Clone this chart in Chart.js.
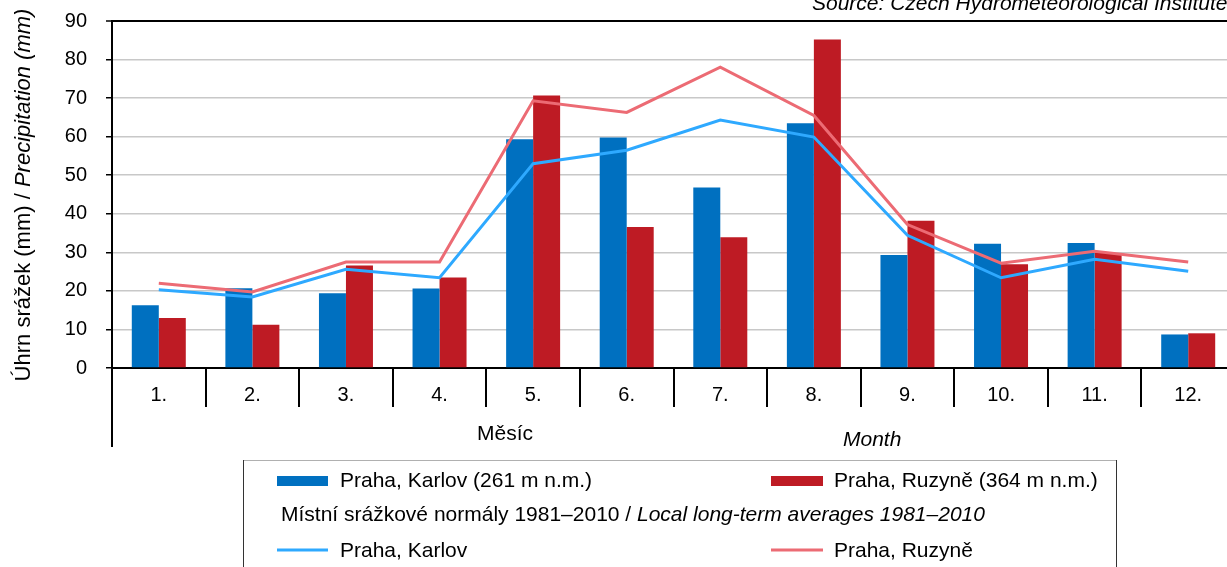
<!DOCTYPE html>
<html>
<head>
<meta charset="utf-8">
<script src="https://cdn.jsdelivr.net/npm/chart.js@4.4.1/dist/chart.umd.min.js"></script>
<style>
html, body { margin: 0; padding: 0; background: #fff; overflow: hidden; }
#wrap { position: relative; width: 1236px; height: 567px; }
</style>
</head>
<body>
<div id="wrap"><canvas id="srazkyChart" width="1236" height="567"></canvas></div>
<script>
// mesicni srazky 2013 vs. normaly 1981-2010
const mesice = ['1.', '2.', '3.', '4.', '5.', '6.', '7.', '8.', '9.', '10.', '11.', '12.'];
const karlovSrazky = [16.3, 20.7, 19.4, 20.6, 59.3, 59.8, 46.8, 63.5, 29.3, 32.2, 32.4, 8.7];
const ruzyneSrazky = [13.0, 11.2, 26.6, 23.5, 70.7, 36.6, 33.9, 85.2, 38.2, 26.9, 29.8, 9.0];
const karlovNormal = [20.3, 18.4, 25.6, 23.4, 53.0, 56.5, 64.3, 59.9, 34.4, 23.4, 28.2, 25.1];
const ruzyneNormal = [22.0, 19.7, 27.5, 27.5, 69.3, 66.3, 78.0, 65.5, 37.2, 27.2, 30.3, 27.5];
const yTicks = [0, 10, 20, 30, 40, 50, 60, 70, 80, 90];

const MODRA = '#0070C0';
const CERVENA = '#BE1B24';
const SVETLE_MODRA = '#2EA9FF';
const RUZOVA = '#EC6B74';
const FONT = '"Liberation Sans", Arial, sans-serif';

// texty mimo osy: popis osy y, mesic, zdroj, legenda
const popisky = {
    id: 'popisky',
    afterDraw(chart) {
        const ctx = chart.ctx;
        const area = chart.chartArea;
        ctx.save();
        ctx.fillStyle = '#000';
        ctx.textBaseline = 'alphabetic';

        // prodlouzena cara vlevo pod osou x
        ctx.strokeStyle = '#000';
        ctx.lineWidth = 2;
        ctx.beginPath();
        ctx.moveTo(area.left, area.bottom);
        ctx.lineTo(area.left, 447);
        ctx.stroke();

        // popis osy y (otoceny, cast kurzivou)
        ctx.save();
        ctx.translate(30, 195);
        ctx.rotate(-Math.PI / 2);
        const t1 = 'Úhrn srážek (mm) / ';
        const t2 = 'Precipitation (mm)';
        ctx.font = '22px ' + FONT;
        const w1 = ctx.measureText(t1).width;
        ctx.font = 'italic 22px ' + FONT;
        const w2 = ctx.measureText(t2).width;
        let x = -(w1 + w2) / 2;
        ctx.font = '22px ' + FONT;
        ctx.textAlign = 'left';
        ctx.fillText(t1, x, 0);
        ctx.font = 'italic 22px ' + FONT;
        ctx.fillText(t2, x + w1, 0);
        ctx.restore();

        ctx.textAlign = 'left';
        ctx.font = '21px ' + FONT;
        ctx.fillText('Měsíc', 477, 440);
        ctx.font = 'italic 21px ' + FONT;
        ctx.fillText('Month', 843, 446);

        ctx.font = 'italic 21px ' + FONT;
        ctx.fillText('Source: Czech Hydrometeorological Institute', 812, 10);

        // legenda
        ctx.lineWidth = 1;
        ctx.strokeStyle = '#b0b0b0';
        ctx.beginPath();
        ctx.moveTo(243, 460.5);
        ctx.lineTo(1117, 460.5);
        ctx.stroke();
        ctx.strokeStyle = '#333';
        ctx.beginPath();
        ctx.moveTo(243.5, 460);
        ctx.lineTo(243.5, 567);
        ctx.moveTo(1116.5, 460);
        ctx.lineTo(1116.5, 567);
        ctx.stroke();

        const ds = chart.data.datasets;
        ctx.fillStyle = ds[0].backgroundColor;
        ctx.fillRect(277, 476, 51, 10);
        ctx.fillStyle = ds[1].backgroundColor;
        ctx.fillRect(771, 476, 52, 10);

        ctx.lineWidth = 3;
        ctx.strokeStyle = ds[2].borderColor;
        ctx.beginPath();
        ctx.moveTo(277, 550);
        ctx.lineTo(328, 550);
        ctx.stroke();
        ctx.strokeStyle = ds[3].borderColor;
        ctx.beginPath();
        ctx.moveTo(771, 550);
        ctx.lineTo(823, 550);
        ctx.stroke();

        ctx.fillStyle = '#000';
        ctx.font = '21px ' + FONT;
        ctx.fillText(ds[0].label, 340, 487);
        ctx.fillText(ds[1].label, 834, 487);
        ctx.fillText(ds[2].label, 340, 557);
        ctx.fillText(ds[3].label, 834, 557);
        const n1 = 'Místní srážkové normály 1981–2010 / ';
        ctx.fillText(n1, 281, 521);
        const wn = ctx.measureText(n1).width;
        ctx.font = 'italic 21px ' + FONT;
        ctx.fillText('Local long-term averages 1981–2010', 281 + wn, 521);

        ctx.restore();
    }
};

const ctxSrazky = document.getElementById('srazkyChart').getContext('2d');
new Chart(ctxSrazky, {
    type: 'bar',
    data: {
        labels: mesice,
        datasets: [{
            label: 'Praha, Karlov (261 m n.m.)',
            data: karlovSrazky,
            backgroundColor: MODRA,
            categoryPercentage: 0.577,
            barPercentage: 1,
            order: 1
        }, {
            label: 'Praha, Ruzyně (364 m n.m.)',
            data: ruzyneSrazky,
            backgroundColor: CERVENA,
            categoryPercentage: 0.577,
            barPercentage: 1,
            order: 1
        }, {
            type: 'line',
            label: 'Praha, Karlov',
            data: karlovNormal,
            borderColor: SVETLE_MODRA,
            borderWidth: 3,
            pointRadius: 0,
            tension: 0,
            order: 0
        }, {
            type: 'line',
            label: 'Praha, Ruzyně',
            data: ruzyneNormal,
            borderColor: RUZOVA,
            borderWidth: 3,
            pointRadius: 0,
            tension: 0,
            order: 0
        }]
    },
    options: {
        responsive: false,
        animation: false,
        layout: { padding: { top: 21, left: 0, right: 1, bottom: 0 } },
        scales: {
            x: {
                offset: true,
                grid: {
                    offset: true,
                    drawOnChartArea: false,
                    color: '#000',
                    lineWidth: 2,
                    tickLength: 39
                },
                border: { color: '#000', width: 2 },
                ticks: {
                    color: '#000',
                    padding: -24,
                    font: { family: FONT, size: 20 }
                },
                afterFit: scale => {
                    scale.height = 199;
                    scale.paddingLeft = 0;
                    scale.paddingRight = 0;
                }
            },
            y: {
                min: 0,
                max: 90,
                afterBuildTicks: scale => { scale.ticks = yTicks.map(v => ({ value: v })); },
                grid: {
                    color: c => (c.tick && c.tick.value === 90 ? '#000' : '#c8c8c8'),
                    lineWidth: c => (c.tick && c.tick.value === 90 ? 2 : 1.5),
                    tickColor: '#000',
                    tickWidth: 1.5,
                    tickLength: 6
                },
                border: { color: '#000', width: 2 },
                ticks: {
                    color: '#000',
                    padding: 19,
                    font: { family: FONT, size: 20 }
                },
                afterFit: scale => {
                    scale.width = 112;
                    scale.paddingTop = 0;
                    scale.paddingBottom = 0;
                }
            }
        },
        plugins: {
            legend: { display: false },
            tooltip: { enabled: false }
        }
    },
    plugins: [popisky]
});
</script>
</body>
</html>
